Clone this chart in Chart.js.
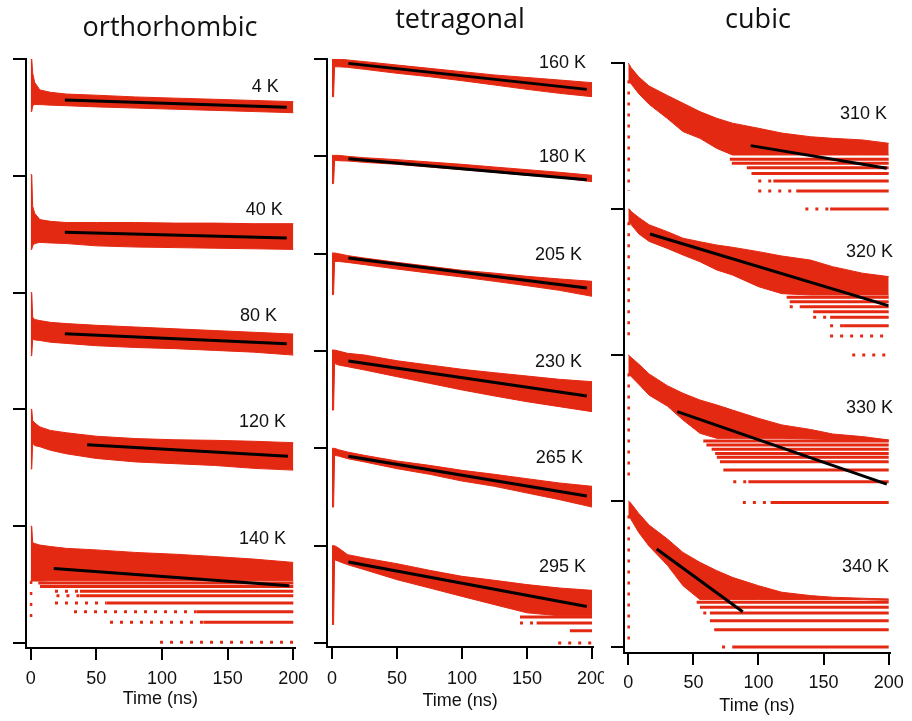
<!DOCTYPE html>
<html><head><meta charset="utf-8">
<script src="https://cdn.jsdelivr.net/npm/chart.js@4.4.0/dist/chart.umd.min.js"></script>
<style>
html,body{margin:0;padding:0;background:#fff;}
body{width:912px;height:721px;position:relative;overflow:hidden;}
canvas{position:absolute;top:0;}
</style></head><body>
<canvas id="c1" width="310" height="721" style="left:0px"></canvas>
<canvas id="c2" width="294" height="721" style="left:310px"></canvas>
<canvas id="c3" width="308" height="721" style="left:604px"></canvas>
<script>
// ---------- shared ----------
const xTicks = [0, 50, 100, 150, 200];

// ---------- orthorhombic ----------
const orthoLabels = ['4 K', '40 K', '80 K', '120 K', '140 K'];
const orthoTime = [0, 0.8, 1.5, 3, 7, 15, 27, 50, 80, 110, 140, 170, 200];
const orthoHigh = [
  [0, 0, -0.12, -0.20, -0.265, -0.285, -0.30, -0.31, -0.325, -0.335, -0.345, -0.355, -0.365],
  [0.01, 0.01, -0.26, -0.32, -0.375, -0.39, -0.40, -0.40, -0.40, -0.405, -0.405, -0.41, -0.41],
  [0, 0, -0.21, -0.23, -0.24, -0.255, -0.265, -0.28, -0.295, -0.31, -0.325, -0.34, -0.355],
  [0, 0, -0.095, -0.115, -0.15, -0.18, -0.20, -0.23, -0.25, -0.26, -0.265, -0.273, -0.285],
  [0, 0, -0.14, -0.148, -0.162, -0.174, -0.19, -0.203, -0.225, -0.24, -0.26, -0.282, -0.31]
];
const orthoLow = [
  [-0.45, -0.45, -0.40, -0.39, -0.39, -0.395, -0.40, -0.41, -0.42, -0.43, -0.44, -0.45, -0.46],
  [-0.63, -0.63, -0.60, -0.58, -0.57, -0.575, -0.58, -0.60, -0.61, -0.615, -0.62, -0.625, -0.63],
  [-0.54, -0.54, -0.40, -0.405, -0.41, -0.425, -0.435, -0.455, -0.47, -0.48, -0.495, -0.51, -0.535],
  [-0.51, -0.51, -0.29, -0.31, -0.32, -0.35, -0.38, -0.42, -0.45, -0.465, -0.48, -0.505, -0.52],
  [-0.47, -0.47, -0.47, -0.47, -0.47, -0.467, -0.467, -0.467, -0.467, -0.467, -0.467, -0.467, -0.467]
];
const orthoFit = [
  [26, -0.35, 195, -0.413], [26, -0.484, 195, -0.533], [26, -0.353, 195, -0.439],
  [43, -0.302, 196, -0.402], [17.6, -0.362, 197, -0.51]
];
// photon-count levels: [level, solid from t, sparse from t]
const orthoLevels = [[], [], [], [], [
  [-0.487, 5.8, null], [-0.516, 7.1, null], [-0.558, 37.5, 18.5], [-0.596, 37.5, 19.6],
  [-0.658, 57.8, 18.5], [-0.732, 126.4, 33], [-0.823, 131.5, 60.4], [-0.994, null, 98.5]
]];
const orthoColumn = [null, null, null, null, [-0.47, -0.823]];
const orthoLabelAt = [[189, -0.244], [192, -0.29], [187.6, -0.197], [194.4, -0.111], [194.4, -0.111]];

// ---------- tetragonal ----------
const tetraLabels = ['160 K', '180 K', '205 K', '230 K', '265 K', '295 K'];
const tetraTime = [0, 1.2, 2, 5, 12, 25, 50, 75, 100, 125, 150, 175, 200];
const tetraHigh = [
  [0, 0, 0, 0, -0.01, -0.027, -0.062, -0.096, -0.13, -0.164, -0.19, -0.216, -0.243],
  [0.01, 0.01, 0.01, 0.01, 0, -0.014, -0.034, -0.058, -0.082, -0.11, -0.137, -0.164, -0.195],
  [0.007, 0.007, 0.007, 0, -0.02, -0.045, -0.089, -0.13, -0.171, -0.2, -0.233, -0.26, -0.284],
  [0.01, 0.01, 0.01, 0, -0.024, -0.041, -0.1, -0.144, -0.188, -0.223, -0.257, -0.291, -0.315],
  [0, 0, 0, -0.014, -0.038, -0.072, -0.13, -0.175, -0.226, -0.267, -0.312, -0.356, -0.39],
  [0, 0, 0, -0.024, -0.092, -0.127, -0.185, -0.253, -0.315, -0.356, -0.40, -0.435, -0.459]
];
const tetraLow = [
  [-0.387, -0.387, -0.08, -0.08, -0.086, -0.106, -0.147, -0.182, -0.223, -0.267, -0.312, -0.353, -0.387],
  [-0.28, -0.28, -0.041, -0.045, -0.048, -0.062, -0.082, -0.11, -0.137, -0.164, -0.195, -0.22, -0.26],
  [-0.42, -0.42, -0.08, -0.08, -0.09, -0.113, -0.158, -0.2, -0.24, -0.284, -0.329, -0.377, -0.438],
  [-0.606, -0.606, -0.127, -0.144, -0.161, -0.195, -0.264, -0.332, -0.4, -0.462, -0.521, -0.572, -0.623],
  [-0.603, -0.603, -0.072, -0.079, -0.106, -0.14, -0.209, -0.267, -0.336, -0.39, -0.459, -0.527, -0.603],
  [-0.81, -0.81, -0.144, -0.161, -0.195, -0.247, -0.349, -0.435, -0.521, -0.606, -0.69, -0.72, -0.72]
];
const tetraFit = [
  [12.6, -0.045, 196, -0.312], [12.6, -0.024, 196, -0.24], [12.6, -0.044, 196, -0.353],
  [12.6, -0.103, 196, -0.462], [12.6, -0.082, 196, -0.49], [12.6, -0.168, 196, -0.624]
];
const tetraLevels = [[], [], [], [], [], [
  [-0.733, 144.6, null], [-0.795, 157.4, 144.6], [-0.873, 183, null], [-1.0, null, 174]
]];
const tetraColumn = [null, null, null, null, null, null];
const tetraLabelAt = [[195.4, -0.041], [195.4, -0.01], [192.3, -0.01], [192.3, -0.113], [193, -0.103], [195.4, -0.216]];

// ---------- cubic ----------
const cubicLabels = ['310 K', '320 K', '330 K', '340 K'];
const cubicTime = [0, 0.8, 2, 8, 16, 30, 42, 55, 68, 80, 100, 118, 140, 157, 180, 200];
const cubicHigh = [
  [0, -0.01, -0.03, -0.095, -0.158, -0.222, -0.275, -0.333, -0.379, -0.412, -0.447, -0.48, -0.505, -0.516, -0.527, -0.55],
  [0, 0, -0.015, -0.058, -0.108, -0.155, -0.2, -0.224, -0.247, -0.262, -0.292, -0.322, -0.35, -0.395, -0.44, -0.463],
  [0, -0.005, -0.015, -0.062, -0.13, -0.21, -0.262, -0.308, -0.342, -0.377, -0.434, -0.479, -0.51, -0.541, -0.559, -0.582],
  [0, -0.005, -0.015, -0.085, -0.165, -0.26, -0.352, -0.42, -0.477, -0.523, -0.58, -0.625, -0.648, -0.659, -0.666, -0.671]
];
const cubicLow = [
  [-0.12, -0.13, -0.14, -0.21, -0.283, -0.38, -0.47, -0.516, -0.585, -0.63, -0.63, -0.63, -0.63, -0.63, -0.63, -0.63],
  [-0.09, -0.095, -0.105, -0.17, -0.222, -0.27, -0.315, -0.361, -0.418, -0.452, -0.532, -0.58, -0.589, -0.589, -0.589, -0.589],
  [-0.126, -0.13, -0.145, -0.2, -0.275, -0.35, -0.445, -0.536, -0.571, -0.571, -0.571, -0.571, -0.575, -0.58, -0.585, -0.59],
  [-0.1, -0.11, -0.125, -0.215, -0.31, -0.44, -0.58, -0.675, -0.675, -0.675, -0.675, -0.675, -0.675, -0.675, -0.675, -0.68]
];
const cubicFit = [
  [94, -0.566, 198.5, -0.721], [16.7, -0.171, 199.7, -0.662],
  [37.6, -0.388, 198.5, -0.884], [21.8, -0.329, 87.9, -0.758]
];
const cubicLevels = [
  [[-0.66, 78, null], [-0.687, 79.5, null], [-0.717, 91, null], [-0.756, 94.6, null],
   [-0.808, 111.4, 99.8], [-0.877, 129, 99.8], [-1.0, 155, 136]],
  [[-0.605, 121.6, null], [-0.635, 124, null], [-0.669, 131.9, 124], [-0.703, 142, null],
   [-0.742, 155, 142], [-0.799, 165, 155], [-0.87, null, 155], [-1.0, null, 172]],
  [[-0.589, 57.6, null], [-0.616, 60, null], [-0.646, 64, null], [-0.674, 66.7, null],
   [-0.701, 68, null], [-0.731, 70.4, null], [-0.788, 73, null], [-0.868, 92.2, 80.6], [-1.01, 109.3, 88]],
  [[-0.694, 52.5, null], [-0.728, 55, null], [-0.767, 62.7, 57.6], [-0.82, 62.7, null],
   [-0.881, 66, null], [-1.0, 80, 72]]
];
const cubicColumn = [[-0.12, -0.877], [-0.09, -0.87], [-0.126, -0.868], [-0.1, -1.0]];
const cubicLabelAt = [[198.7, -0.349], [203.3, -0.295], [203.3, -0.363], [200.2, -0.452]];

// ---------- rendering ----------
const RED = 'rgb(228,41,19)';
const SANS = '"Liberation Sans", Arial, sans-serif';
Chart.defaults.font.family = SANS;

function buildDatasets(times, highs, lows, fits, levels, columns, top) {
  const ds = [];
  const line = (pts, extra) => Object.assign({
    data: pts, borderColor: RED, backgroundColor: RED, borderWidth: 3,
    pointRadius: 0, fill: false, tension: 0, borderCapStyle: 'butt', order: 2
  }, extra || {});
  highs.forEach((hi, i) => {
    const base = top - i;
    const lo = lows[i];
    ds.push(line(times.map((t, j) => ({x: t, y: base + hi[j]})), {fill: '+1', borderWidth: 1, order: 3}));
    ds.push(line(times.map((t, j) => ({x: t, y: base + lo[j]})), {borderWidth: 1, order: 3}));
    levels[i].forEach(([lv, solid, sparse]) => {
      const end = solid === null ? 200 : solid;
      if (solid !== null) ds.push(line([{x: solid, y: base + lv}, {x: 200, y: base + lv}]));
      if (sparse !== null) ds.push(line([{x: sparse, y: base + lv}, {x: end, y: base + lv}], {borderDash: [3, 7]}));
    });
    if (columns[i]) {
      ds.push(line([{x: 0.3, y: base + columns[i][0]}, {x: 0.3, y: base + columns[i][1]}], {borderDash: [3, 8], borderWidth: 2.5}));
    }
    const f = fits[i];
    ds.push(line([{x: f[0], y: base + f[1]}, {x: f[2], y: base + f[3]}], {borderColor: '#000', borderWidth: 3, order: 1}));
  });
  return ds;
}

function textPlugin(title, tx, ty, labels, anchors, top) {
  return {
    id: 'texts',
    afterDatasetsDraw(chart) {
      const ctx = chart.ctx, xs = chart.scales.x, ys = chart.scales.y;
      ctx.save();
      ctx.fillStyle = '#111';
      ctx.font = '18px ' + SANS;
      ctx.textAlign = 'right';
      ctx.textBaseline = 'middle';
      labels.forEach((txt, i) => {
        const [t, off] = anchors[i];
        ctx.fillText(txt, xs.getPixelForValue(t), ys.getPixelForValue(top - i + off));
      });
      ctx.font = '27px "Open Sans", sans-serif';
      ctx.textAlign = 'center';
      ctx.textBaseline = 'alphabetic';
      ctx.fillText(title, tx, ty);
      ctx.restore();
    }
  };
}

function makeChart(id, c) {
  const yTicks = [];
  for (let k = 0; k <= c.top; k++) yTicks.push(k);
  return new Chart(document.getElementById(id), {
    type: 'line',
    data: {datasets: buildDatasets(c.time, c.high, c.low, c.fit, c.levels, c.column, c.top)},
    options: {
      responsive: false, animation: false, events: [],
      layout: {padding: {left: c.padL, right: c.padR, top: c.padT, bottom: 0}},
      plugins: {legend: {display: false}, tooltip: {enabled: false}},
      scales: {
        x: {
          type: 'linear', min: c.xMin, max: 201,
          afterBuildTicks: s => { s.ticks = xTicks.map(v => ({value: v})); },
          afterFit: s => { s.height = c.xH; s.paddingLeft = 0; s.paddingRight = 0; },
          grid: {drawOnChartArea: false, drawTicks: true, tickLength: 12, color: '#000', lineWidth: 2},
          border: {display: true, color: '#000', width: 2},
          ticks: {padding: c.tickPad, color: '#111', font: {size: 18, family: SANS}, maxRotation: 0, autoSkip: false},
          title: {display: true, text: 'Time (ns)', color: '#111', font: {size: 18, family: SANS},
                  padding: {top: 0, bottom: c.titlePad}}
        },
        y: {
          type: 'linear', min: c.yMin, max: c.top,
          afterBuildTicks: s => { s.ticks = yTicks.map(v => ({value: v})); },
          afterFit: s => { s.width = 14; s.paddingTop = 0; s.paddingBottom = 0; },
          grid: {drawOnChartArea: false, drawTicks: true, tickLength: 13, color: '#000', lineWidth: 2},
          border: {display: true, color: '#000', width: 2},
          ticks: {display: false}
        }
      }
    },
    plugins: [textPlugin(c.title, c.tx, c.ty, c.labels, c.labelAt, c.top)]
  });
}

makeChart('c1', {
  title: 'orthorhombic', tx: 170, ty: 36,
  labels: orthoLabels, labelAt: orthoLabelAt,
  time: orthoTime, high: orthoHigh, low: orthoLow, fit: orthoFit, levels: orthoLevels, column: orthoColumn,
  top: 5, yMin: -0.043, xMin: -3.58,
  padL: 12, padR: 15.4, padT: 59, xH: 73, tickPad: 8, titlePad: 10.7
});
makeChart('c2', {
  title: 'tetragonal', tx: 150, ty: 28,
  labels: tetraLabels, labelAt: tetraLabelAt,
  time: tetraTime, high: tetraHigh, low: tetraLow, fit: tetraFit, levels: tetraLevels, column: tetraColumn,
  top: 6, yMin: -0.041, xMin: -3.85,
  padL: 3, padR: 10.7, padT: 59, xH: 74, tickPad: 9, titlePad: 9.2
});
makeChart('c3', {
  title: 'cubic', tx: 154, ty: 28,
  labels: cubicLabels, labelAt: cubicLabelAt,
  time: cubicTime, high: cubicHigh, low: cubicLow, fit: cubicFit, levels: cubicLevels, column: cubicColumn,
  top: 4, yMin: -0.041, xMin: -3.3,
  padL: 6, padR: 22, padT: 63, xH: 68, tickPad: 7.7, titlePad: 4.2
});
</script>
</body></html>
